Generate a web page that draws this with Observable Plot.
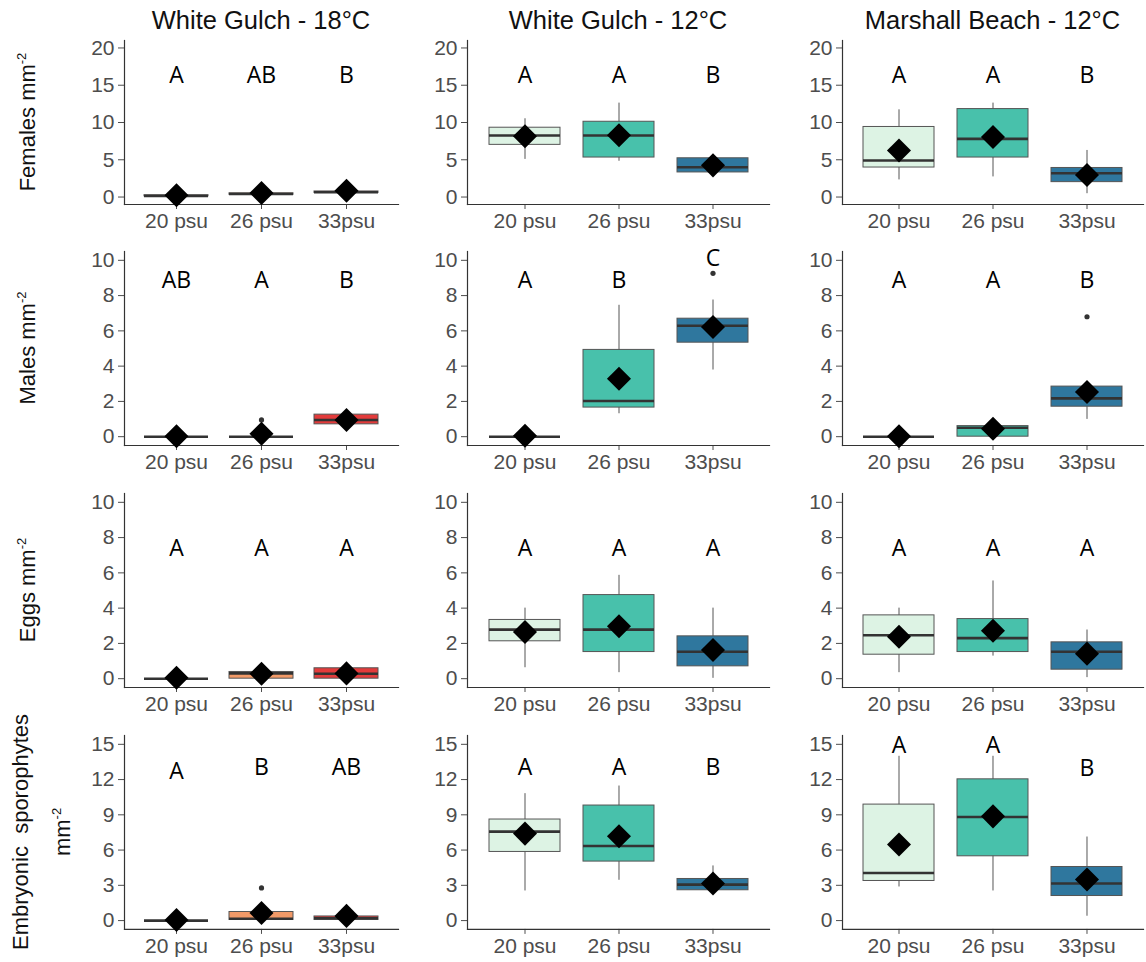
<!DOCTYPE html>
<html><head><meta charset="utf-8">
<script src="https://cdn.jsdelivr.net/npm/d3@7"></script>
<script src="https://cdn.jsdelivr.net/npm/@observablehq/plot@0.6"></script>
<style>
body{margin:0;background:#fff;}
#chart{position:relative;width:1146px;height:962px;overflow:hidden;font-family:"Liberation Sans",Arial,sans-serif;}
.panel{position:absolute;}
.title{position:absolute;transform:translate(-50%,-50%);white-space:nowrap;font-size:25.5px;color:#111;}
.ylab{position:absolute;transform:translate(-50%,-50%) rotate(-90deg);white-space:nowrap;font-size:22px;color:#111;text-align:center;}
.ylab sup{font-size:13px;vertical-align:9px;}
</style></head><body><div id="chart"></div>
<script>
// ---------- data ----------
const sites = ["White Gulch - 18°C", "White Gulch - 12°C", "Marshall Beach - 12°C"];
const salinities = ["20 psu", "26 psu", "33psu"];
const responses = ["Females", "Males", "Eggs", "Embryonic  sporophytes"];
const yMax = [20, 10, 10, 15];
const yTicks = [[0,5,10,15,20],[0,2,4,6,8,10],[0,2,4,6,8,10],[0,3,6,9,12,15]];

// [site index, salinity, lower whisker, q1, median, q3, upper whisker, mean]
const femalesStats = [
  [0,"20 psu",0.1,0.1,0.15,0.25,0.25,0.25],
  [0,"26 psu",0.3,0.3,0.4,0.5,0.5,0.55],
  [0,"33psu",0.55,0.55,0.65,0.75,0.75,0.85],
  [1,"20 psu",5.05,7.0,8.25,9.3,10.5,8.15],
  [1,"26 psu",4.8,5.3,8.25,10.1,12.6,8.3],
  [1,"33psu",3.3,3.3,4.0,5.2,5.4,4.25],
  [2,"20 psu",2.3,3.96,4.9,9.4,11.7,6.25],
  [2,"26 psu",2.7,5.3,7.8,11.8,12.6,8.05],
  [2,"33psu",0.45,2.0,3.2,3.9,6.25,2.95]
];
const malesStats = [
  [0,"20 psu",0,0,0,0,0,0.02],
  [0,"26 psu",0,0,0,0,0,0.17],
  [0,"33psu",0.7,0.7,0.95,1.25,1.25,0.95],
  [1,"20 psu",0,0,0,0,0,0.05],
  [1,"26 psu",1.3,1.65,2.02,4.92,7.45,3.29],
  [1,"33psu",3.78,5.33,6.29,6.69,7.75,6.22],
  [2,"20 psu",0,0,0,0,0,0.02],
  [2,"26 psu",0,0,0.51,0.6,0.6,0.45],
  [2,"33psu",0.98,1.7,2.17,2.84,2.84,2.53]
];
const eggsStats = [
  [0,"20 psu",0,0,0,0,0,0.05],
  [0,"26 psu",0,0,0.3,0.38,0.5,0.28],
  [0,"33psu",0,0,0.28,0.59,0.59,0.3],
  [1,"20 psu",0.62,2.12,2.78,3.33,4.0,2.65],
  [1,"26 psu",0.34,1.51,2.78,4.74,5.86,2.97],
  [1,"33psu",0.02,0.7,1.53,2.4,4.0,1.63],
  [2,"20 psu",0.34,1.36,2.46,3.59,4.0,2.38],
  [2,"26 psu",1.28,1.51,2.3,3.38,5.54,2.72],
  [2,"33psu",0.06,0.51,1.53,2.06,2.76,1.42]
];
const embryoStats = [
  [0,"20 psu",0,0,0,0,0,0.05],
  [0,"26 psu",0.05,0.05,0.15,0.73,0.73,0.65],
  [0,"33psu",0.05,0.05,0.2,0.35,0.35,0.4],
  [1,"20 psu",2.52,5.84,7.57,8.6,10.8,7.4],
  [1,"26 psu",3.43,5.02,6.35,9.79,11.45,7.17],
  [1,"33psu",2.4,2.58,3.06,3.54,4.65,3.15],
  [2,"20 psu",2.86,3.37,4.05,9.87,13.98,6.47],
  [2,"26 psu",2.52,5.47,8.82,12.02,13.98,8.87],
  [2,"33psu",0.37,2.09,3.15,4.56,7.11,3.49]
];
// [row, site index, salinity, value]
const outliers = [
  [1,0,"26 psu",0.95],
  [1,1,"33psu",9.26],
  [1,2,"33psu",6.8],
  [3,0,"26 psu",2.78]
];
// [row, site index, salinity, letter, height]
const letters = [
  [0,0,"20 psu","A",16.3],[0,0,"26 psu","AB",16.3],[0,0,"33psu","B",16.3],
  [0,1,"20 psu","A",16.3],[0,1,"26 psu","A",16.3],[0,1,"33psu","B",16.3],
  [0,2,"20 psu","A",16.3],[0,2,"26 psu","A",16.3],[0,2,"33psu","B",16.3],
  [1,0,"20 psu","AB",8.85],[1,0,"26 psu","A",8.85],[1,0,"33psu","B",8.85],
  [1,1,"20 psu","A",8.85],[1,1,"26 psu","B",8.85],[1,1,"33psu","C",10.07],
  [1,2,"20 psu","A",8.85],[1,2,"26 psu","A",8.85],[1,2,"33psu","B",8.85],
  [2,0,"20 psu","A",7.38],[2,0,"26 psu","A",7.38],[2,0,"33psu","A",7.38],
  [2,1,"20 psu","A",7.38],[2,1,"26 psu","A",7.38],[2,1,"33psu","A",7.38],
  [2,2,"20 psu","A",7.38],[2,2,"26 psu","A",7.38],[2,2,"33psu","A",7.38],
  [3,0,"20 psu","A",12.7],[3,0,"26 psu","B",13.0],[3,0,"33psu","AB",13.0],
  [3,1,"20 psu","A",13.0],[3,1,"26 psu","A",13.0],[3,1,"33psu","B",13.0],
  [3,2,"20 psu","A",14.9],[3,2,"26 psu","A",14.9],[3,2,"33psu","B",12.96]
];

// ---------- styles / layout ----------
const fillWarm = {"20 psu":"#fde2c8","26 psu":"#f29a68","33psu":"#e33b3b"};
const fillCool = {"20 psu":"#ddf3e4","26 psu":"#48c1ab","33psu":"#2f779e"};
const colLeft = [124, 467, 842];
const colRight = [398, 769, 1143];
const rowTop = [39.5, 250.5, 492.5, 735.2];
const rowBottom = [203.5, 444.5, 686.5, 929.1];
const ML = 60, MR = 4, MT = 4, MB = 40;

const allStats = [femalesStats, malesStats, eggsStats, embryoStats];
const chart = document.getElementById("chart");

for (let r = 0; r < 4; r++) {
  for (let c = 0; c < 3; c++) {
    const stats = allStats[r].filter(d => d[0] === c).map(d => ({sal:d[1], lo:d[2], q1:d[3], med:d[4], q3:d[5], hi:d[6], mean:d[7]}));
    const outs = outliers.filter(d => d[0] === r && d[1] === c).map(d => ({sal:d[2], v:d[3]}));
    const lets = letters.filter(d => d[0] === r && d[1] === c).map(d => ({sal:d[2], t:d[3], v:d[4]}));
    const pal = c === 0 ? fillWarm : fillCool;
    const pad = yMax[r] * 0.05;
    const pw = colRight[c] - colLeft[c];
    const ph = rowBottom[r] - rowTop[r];
    const svg = Plot.plot({
      width: ML + pw + MR, height: MT + ph + MB,
      marginLeft: ML, marginRight: MR, marginTop: MT, marginBottom: MB,
      style: {fontFamily: "'Liberation Sans', Arial, sans-serif", fontSize: "21px", color: "#4d4d4d", background: "transparent", overflow: "visible"},
      x: {type: "band", domain: salinities, paddingInner: 0.25, paddingOuter: 0.225, axis: null},
      y: {domain: [-pad, yMax[r] + pad], axis: null},
      marks: [
        Plot.axisX({tickSize: 5, tickPadding: 4, fontSize: 21, color: "#4d4d4d", label: null}),
        Plot.axisY({ticks: yTicks[r], tickSize: 6, tickPadding: 4, fontSize: 21, color: "#4d4d4d", label: null}),
        Plot.frame({anchor: "left", stroke: "#333", strokeWidth: 1.2}),
        Plot.frame({anchor: "bottom", stroke: "#333", strokeWidth: 1.2}),
        Plot.ruleX(stats, {x: "sal", y1: "lo", y2: "hi", stroke: "#555", strokeWidth: 1}),
        Plot.barY(stats, {x: "sal", y1: "q1", y2: "q3", fill: d => pal[d.sal], stroke: "#555", strokeWidth: 1}),
        Plot.tickY(stats, {x: "sal", y: "med", stroke: "#333", strokeWidth: 2.6}),
        Plot.dot(outs, {x: "sal", y: "v", r: 2.6, fill: "#333", stroke: null}),
        Plot.dot(stats, {x: "sal", y: "mean", symbol: "square", rotate: 45, r: 9.6, fill: "black", stroke: null}),
        Plot.text(lets, {x: "sal", y: "v", text: "t", fontSize: 23, fontFamily: "'Open Sans', sans-serif", fill: "#000"})
      ]
    });
    svg.classList.add("panel");
    svg.style.left = (colLeft[c] - ML) + "px";
    svg.style.top = (rowTop[r] - MT) + "px";
    chart.appendChild(svg);
  }
}

// titles
sites.forEach((s, c) => {
  const d = document.createElement("div");
  d.className = "title";
  d.textContent = s;
  d.style.left = ((colLeft[c] + colRight[c]) / 2) + "px";
  d.style.top = "20px";
  chart.appendChild(d);
});

// y labels
responses.forEach((s, r) => {
  const d = document.createElement("div");
  d.className = "ylab";
  const cy = (rowTop[r] + rowBottom[r]) / 2;
  if (r === 3) {
    d.innerHTML = s.replace(/ /g, "&nbsp;") + "<br>mm<sup>-2</sup>";
    d.style.lineHeight = "36px";
    d.style.left = "42px";
  } else {
    d.innerHTML = s + " mm<sup>-2</sup>";
    d.style.left = "27px";
  }
  d.style.top = cy + "px";
  chart.appendChild(d);
});
</script></body></html>
